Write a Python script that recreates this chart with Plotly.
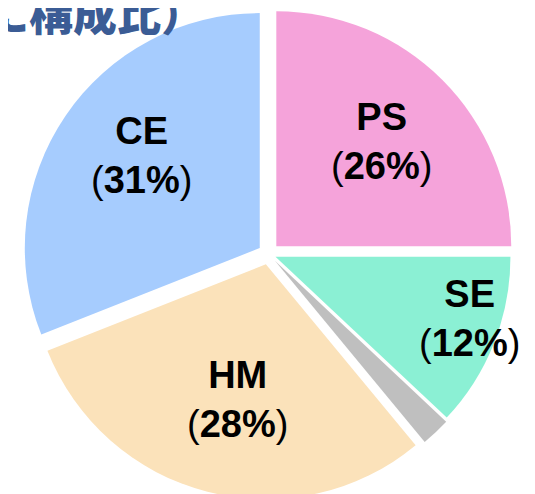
import math
import plotly.graph_objects as go

# ---- data ----
categories = ["PS", "SE", "その他", "HM", "CE"]
values = [25, 12, 2, 30, 31]
label_pcts = ["26%", "12%", "", "28%", "31%"]
title_text = "（事業別に構成比）"

# ---- style ----
colors = ["#F5A3DA", "#8BF0D4", "#BFBFBF", "#FBE2BA", "#A6CCFE"]
pulls = [0.047, 0.032, 0.04, 0.045, 0.045]
label_frac = [0.678, 0.90, 0.0, 0.633, 0.684]
label_dang = [0.0, -3.7, 0.0, -2.2, 3.7]

W, H = 527, 492
M_L, M_R, M_T, M_B = 14, 20, 0, 0

fig = go.Figure(
    go.Pie(
        labels=categories,
        values=values,
        sort=False,
        direction="clockwise",
        rotation=0,
        pull=pulls,
        marker=dict(colors=colors, line=dict(width=0)),
        textinfo="none",
        hoverinfo="skip",
        showlegend=False,
    )
)

# label placement derived from the slice angles
pw, ph = W - M_L - M_R, H - M_T - M_B
r = min(pw, ph) / (2 * (1 + max(pulls)))
cx, cy = M_L + pw / 2, M_T + ph / 2
total = sum(values)
cum = 0
annotations = []
for cat, v, pct, f, da in zip(categories, values, label_pcts, label_frac, label_dang):
    mid = (cum + v / 2) / total * 2 * math.pi + math.radians(da)
    cum += v
    if not pct:
        continue
    px = cx + f * r * math.sin(mid)
    py = cy - f * r * math.cos(mid)
    annotations.append(
        dict(
            x=(px - M_L) / pw,
            y=1 - (py - M_T) / ph,
            xref="paper",
            yref="paper",
            xanchor="center",
            yanchor="middle",
            showarrow=False,
            align="center",
            text=f"<b>{cat}</b><br>(<b>{pct}</b>)",
            font=dict(family="Liberation Sans, Arial, sans-serif", size=38, color="#000000"),
        )
    )

annotations.append(
    dict(
        x=(199 - M_L) / pw,
        y=0.922,
        xref="paper",
        yref="paper",
        xanchor="right",
        yanchor="bottom",
        showarrow=False,
        text=title_text,
        font=dict(family="Noto Sans CJK JP, sans-serif", size=44, color="#3B5C95", weight=900),
    )
)

fig.update_layout(
    width=W,
    height=H,
    margin=dict(l=M_L, r=M_R, t=M_T, b=M_B),
    paper_bgcolor="white",
    plot_bgcolor="white",
    showlegend=False,
    annotations=annotations,
)

fig.write_html("out.html")
